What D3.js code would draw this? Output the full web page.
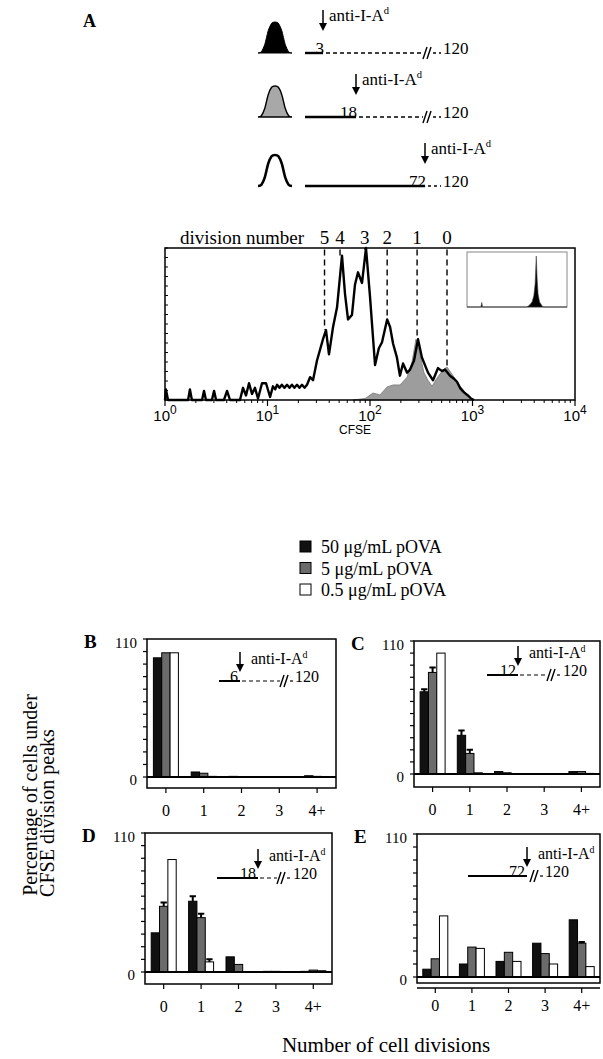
<!DOCTYPE html>
<html>
<head>
<meta charset="utf-8">
<script src="https://cdn.jsdelivr.net/npm/d3@7"></script>
<style>
  body { margin: 0; background: #fff; }
</style>
</head>
<body>
<script>
// ---------- data ----------
// Panel A schematic: hours when anti-I-Ad was added, culture ends at 120 h
const schemeTimes = [3, 18, 72];
const schemeEnd = 120;
const schemeBreak = [true, true, false];
const schemeFill = ['#000', '#a8a8a8', 'none'];
// normalised bell shape used for the three little histogram icons
const bellProfile = [[0, 0], [0.1, 0.04], [0.2, 0.28], [0.3, 0.72], [0.4, 0.96], [0.5, 1], [0.6, 0.96], [0.7, 0.72], [0.8, 0.28], [0.9, 0.04], [1, 0]];

// CFSE histogram [CFSE intensity, % of max]
const cfseOpen = [
  [1.00, 0], [1.02, 7], [1.07, 0], [1.68, 0], [1.75, 7], [1.83, 0], [2.30, 0], [2.40, 6], [2.51, 0],
  [2.87, 0], [3.01, 6], [3.15, 0], [3.76, 0], [4.03, 6], [4.31, 0], [5.39, 0], [5.77, 8], [6.17, 3],
  [6.60, 11], [7.06, 4], [7.55, 8], [8.08, 1], [8.84, 11], [9.67, 11], [10.6, 2], [11.3, 9], [11.9, 7],
  [12.4, 10], [13.1, 8], [13.8, 10], [14.6, 8], [15.5, 10], [16.4, 8], [17.3, 10], [18.3, 8], [19.4, 10],
  [20.5, 8], [21.7, 10], [23.0, 8], [24.3, 10], [26.0, 15], [27.8, 13], [30.4, 26], [34.8, 40], [37.2, 46],
  [39.8, 30], [43.6, 48], [47.7, 61], [53.3, 95], [57.0, 70], [61.0, 53], [66.7, 56], [71.4, 76], [76.4, 84],
  [83.6, 77], [91.4, 100], [100, 68], [112, 23], [122, 34], [131, 38], [147, 53], [157, 48], [168, 37],
  [183, 28], [196, 16], [210, 24], [230, 18], [246, 20], [269, 26], [294, 40], [321, 28], [368, 18],
  [412, 13], [461, 21], [504, 19], [539, 20], [603, 16], [660, 14], [706, 12], [755, 8], [826, 5],
  [903, 3], [967, 1], [1035, 0]
];
const cfseFilled = [
  [68, 0], [90, 1], [107, 4.6], [125, 3.3], [147, 8.6], [168, 9.9], [196, 9.9], [230, 15], [257, 25],
  [281, 40], [307, 30], [336, 18], [368, 13], [403, 9], [451, 14.5], [515, 19.7], [564, 21.7], [631, 17],
  [706, 12], [808, 6.6], [903, 3.3], [1011, 0]
];
const insetTrace = [
  [1, 0], [3.6, 0], [3.9, 9], [4.2, 0], [250, 0], [320, 4], [400, 10], [470, 22], [530, 45], [590, 100],
  [640, 55], [700, 25], [800, 10], [950, 4], [1100, 0], [10000, 0]
];
const divisionNumbers = [5, 4, 3, 2, 1, 0];
const divisionCfse = [36, 51, 89, 147, 288, 564];
const divisionPeak = [46, 95, 100, 53, 40, 21];
const cfseDecades = [0, 1, 2, 3, 4];

// Panels B-E: % of cells under each division peak, rows = doses
const categories = ['0', '1', '2', '3', '4+'];
const doses = ['50 μg/mL pOVA', '5 μg/mL pOVA', '0.5 μg/mL pOVA'];
const doseFill = ['#111', '#6b6b6b', '#fff'];

const pctB = [[95, 4, 0.5, 0, 1], [99, 3, 0.3, 0, 0.5], [99, 0.5, 0, 0, 0.3]];
const errB = [[0, 0, 0, 0, 0], [0, 0, 0, 0, 0], [0, 0, 0, 0, 0]];
const pctC = [[68, 32, 2, 0.3, 2], [84, 17, 1, 0.3, 2], [100, 1, 0, 0, 0.5]];
const errC = [[2, 4, 0, 0, 0], [4, 3, 0, 0, 0], [0, 0, 0, 0, 0]];
const pctD = [[31, 56, 12, 0.5, 0.5], [52, 43, 6, 0.5, 1.5], [89, 8, 0, 0.3, 1]];
const errD = [[0, 4, 0, 0, 0], [3, 3, 0, 0, 0], [0, 2, 0, 0, 0]];
const pctE = [[6, 10, 12, 26, 44], [14, 23, 19, 18, 26], [47, 22, 12, 10, 8]];
const errE = [[0, 0, 0, 0, 0], [0, 0, 0, 0, 1], [0, 0, 0, 0, 0]];
const addTimes = [6, 12, 18, 72];

// ---------- setup ----------
const serif = '"Liberation Serif", "Times New Roman", serif';
const sans = '"Liberation Sans", Arial, sans-serif';

const svg = d3.select('body').append('svg')
  .attr('width', 603)
  .attr('height', 1059)
  .style('font-family', serif);

const antiLabel = (g, x, y, size) => {
  const t = g.append('text').attr('x', x).attr('y', y).attr('font-size', size);
  t.append('tspan').text('anti-I-A');
  t.append('tspan').attr('font-size', size * 0.62).attr('dy', -size * 0.4).text('d');
};

const arrowDown = (g, x, yTop, yTip) => {
  g.append('line').attr('x1', x).attr('x2', x).attr('y1', yTop).attr('y2', yTip - 6)
    .attr('stroke', '#000').attr('stroke-width', 1.5);
  g.append('path').attr('d', `M${x - 4},${yTip - 8}L${x + 4},${yTip - 8}L${x},${yTip}Z`).attr('fill', '#000');
};

const breakMark = (g, x, y) => {
  [0, 4].forEach(o => {
    g.append('line').attr('x1', x + o).attr('y1', y + 6).attr('x2', x + o + 4).attr('y2', y - 6)
      .attr('stroke', '#000').attr('stroke-width', 1.4);
  });
};

// ---------- Panel A: schematic ----------
svg.append('text').attr('x', 83).attr('y', 27).attr('font-size', 18).attr('font-weight', 'bold').text('A');

const rowLineY = [53, 117, 186];
const timeX = d3.scaleLinear().domain([0, 3, 18, 72]).range([305, 323, 356, 425]);
const bell = d3.line().curve(d3.curveCardinal.tension(0.3));

schemeTimes.forEach((t, i) => {
  const y = rowLineY[i];
  const g = svg.append('g');
  const ix = d3.scaleLinear().range([258, 292]);
  const iy = d3.scaleLinear().range([y, y - 31]);
  const pts = bellProfile.map(d => [ix(d[0]), iy(d[1])]);
  g.append('path')
    .attr('d', bell(pts) + (schemeFill[i] === 'none' ? '' : 'Z'))
    .attr('fill', schemeFill[i])
    .attr('stroke', '#000')
    .attr('stroke-width', i === 2 ? 2.6 : (i === 1 ? 1.4 : 1));

  const xa = timeX(t);
  const xb = 423;
  g.append('line').attr('x1', timeX(0)).attr('x2', xa).attr('y1', y).attr('y2', y)
    .attr('stroke', '#000').attr('stroke-width', 2.4);
  if (schemeBreak[i]) {
    g.append('line').attr('x1', xa + 3).attr('x2', xb).attr('y1', y).attr('y2', y)
      .attr('stroke', '#000').attr('stroke-width', 1.3).attr('stroke-dasharray', '4,3');
    breakMark(g, xb, y);
    g.append('line').attr('x1', xb + 10).attr('x2', 441).attr('y1', y).attr('y2', y)
      .attr('stroke', '#000').attr('stroke-width', 1.3).attr('stroke-dasharray', '3,3');
  } else {
    g.append('line').attr('x1', xa + 3).attr('x2', 441).attr('y1', y).attr('y2', y)
      .attr('stroke', '#000').attr('stroke-width', 1.3).attr('stroke-dasharray', '3,3');
  }
  g.append('text').attr('x', xa + 1).attr('y', y + 1).attr('text-anchor', 'end')
    .attr('font-size', 17).text(t);
  g.append('text').attr('x', 443).attr('y', y + 1).attr('font-size', 17).text(schemeEnd);
  arrowDown(g, xa, y - 43, y - 22);
  antiLabel(g, xa + 6, y - 32, 17);
});

// ---------- Panel A: CFSE histogram ----------
const hx = d3.scaleLog().domain([1, 1e4]).range([165, 575]);
const hy = d3.scaleLinear().domain([0, 100]).range([400, 248]);
const hist = svg.append('g');

hist.append('path')
  .datum(cfseFilled)
  .attr('d', d3.area().x(d => hx(d[0])).y0(hy(0)).y1(d => hy(d[1])))
  .attr('fill', '#9d9d9d').attr('stroke', '#777').attr('stroke-width', 0.8);

hist.append('path')
  .datum(cfseOpen)
  .attr('d', d3.line().x(d => hx(d[0])).y(d => hy(d[1])))
  .attr('fill', 'none').attr('stroke', '#000').attr('stroke-width', 2.4).attr('stroke-linejoin', 'round');

// division guide lines
hist.selectAll('.div').data(divisionNumbers).join('line')
  .attr('x1', (d, i) => hx(divisionCfse[i])).attr('x2', (d, i) => hx(divisionCfse[i]))
  .attr('y1', hy(99)).attr('y2', (d, i) => hy(divisionPeak[i]))
  .attr('stroke', '#000').attr('stroke-width', 1.4).attr('stroke-dasharray', '6,4');
hist.selectAll('.divl').data(divisionNumbers).join('text')
  .attr('x', (d, i) => hx(divisionCfse[i])).attr('y', 244)
  .attr('text-anchor', 'middle').attr('font-size', 19).text(d => d);
hist.append('text').attr('x', 180).attr('y', 244).attr('font-size', 19).text('division number');

// frame
hist.append('rect').attr('x', hx(1)).attr('y', hy(100)).attr('width', hx(1e4) - hx(1)).attr('height', hy(0) - hy(100))
  .attr('fill', 'none').attr('stroke', '#000').attr('stroke-width', 1.5);

// y minor ticks
hist.selectAll('.yt').data(d3.range(0, 100.01, 6.25)).join('line')
  .attr('x1', hx(1)).attr('x2', hx(1) + 3).attr('y1', d => hy(d)).attr('y2', d => hy(d))
  .attr('stroke', '#000').attr('stroke-width', 1);

// x ticks (log)
const minor = [];
cfseDecades.slice(0, -1).forEach(k => d3.range(2, 10).forEach(m => minor.push(m * Math.pow(10, k))));
hist.selectAll('.xm').data(minor).join('line')
  .attr('x1', d => hx(d)).attr('x2', d => hx(d)).attr('y1', hy(0)).attr('y2', hy(0) + 3)
  .attr('stroke', '#000').attr('stroke-width', 1);
hist.selectAll('.xM').data(cfseDecades).join('line')
  .attr('x1', d => hx(Math.pow(10, d))).attr('x2', d => hx(Math.pow(10, d))).attr('y1', hy(0)).attr('y2', hy(0) + 6)
  .attr('stroke', '#000').attr('stroke-width', 1.2);
hist.selectAll('.xl').data(cfseDecades).join('text')
  .attr('x', d => hx(Math.pow(10, d))).attr('y', 421)
  .attr('text-anchor', 'middle').attr('font-family', sans).attr('font-size', 15)
  .each(function (d) {
    const t = d3.select(this);
    t.append('tspan').text('10');
    t.append('tspan').attr('font-size', 12).attr('dy', -7).text(d);
  });
hist.append('text').attr('x', 355).attr('y', 434).attr('text-anchor', 'middle')
  .attr('font-family', sans).attr('font-size', 12).text('CFSE');

// inset
const ix = d3.scaleLog().domain([1, 1e4]).range([467, 567]);
const iy = d3.scaleLinear().domain([0, 100]).range([307, 256]);
hist.append('rect').attr('x', 467).attr('y', 252).attr('width', 100).attr('height', 55)
  .attr('fill', '#fff').attr('stroke', '#888').attr('stroke-width', 1);
hist.append('path').datum(insetTrace)
  .attr('d', d3.area().x(d => ix(d[0])).y0(iy(0)).y1(d => iy(d[1])))
  .attr('fill', '#000').attr('stroke', '#444').attr('stroke-width', 0.6);

// ---------- legend ----------
const ly = d3.scalePoint().domain(doses).range([547, 590]);
const legend = svg.append('g');
legend.selectAll('rect').data(doses).join('rect')
  .attr('x', 300).attr('y', d => ly(d) - 6).attr('width', 11).attr('height', 11)
  .attr('fill', (d, i) => doseFill[i]).attr('stroke', '#000').attr('stroke-width', 1);
legend.selectAll('text').data(doses).join('text')
  .attr('x', 321).attr('y', d => ly(d) + 6).attr('font-size', 18).text(d => d);

// ---------- panels B-E ----------
const panels = [
  { id: 'B', data: pctB, err: errB, time: addTimes[0], left: 147, right: 336, y0: 777, y110: 639, top: 639, bottom: 788,
    inset: { lineY: 681, start: 219, arrow: 240, brk: 280, end: 295 } },
  { id: 'C', data: pctC, err: errC, time: addTimes[1], left: 414, right: 600, y0: 774, y110: 641, top: 641, bottom: 787,
    inset: { lineY: 675, start: 487, arrow: 518, brk: 547, end: 563 } },
  { id: 'D', data: pctD, err: errD, time: addTimes[2], left: 145, right: 332, y0: 972, y110: 833, top: 833, bottom: 984,
    inset: { lineY: 878, start: 217, arrow: 258, brk: 277, end: 293 } },
  { id: 'E', data: pctE, err: errE, time: addTimes[3], left: 417, right: 600, y0: 977, y110: 834, top: 834, bottom: 983,
    extra: 988, inset: { lineY: 876, start: 468, arrow: 527, brk: 530, end: 545 } }
];

const drawPanel = (p) => {
  const g = svg.append('g');
  const x = d3.scaleBand().domain(categories).range([p.left, p.right]);
  const y = d3.scaleLinear().domain([0, 110]).range([p.y0, p.y110]);
  const inner = d3.scaleBand().domain(doses).range([-12.5, 12.5]);
  const barX = (dose, i) => x(categories[i]) + x.bandwidth() / 2 + inner(dose);

  // bars
  doses.forEach((dose, di) => {
    g.selectAll(null).data(p.data[di]).join('rect')
      .attr('x', (d, i) => barX(dose, i))
      .attr('y', d => y(d))
      .attr('width', inner.bandwidth())
      .attr('height', d => y(0) - y(d))
      .attr('fill', doseFill[di]).attr('stroke', '#000').attr('stroke-width', 1);
    // error bars (upper half only)
    p.err[di].forEach((e, i) => {
      if (e <= 0) return;
      const bx = barX(dose, i);
      const v = p.data[di][i];
      g.append('path')
        .attr('d', `M${bx + inner.bandwidth() / 2},${y(v)}V${y(v + e)}M${bx + 1},${y(v + e)}H${bx + inner.bandwidth() - 1}`)
        .attr('stroke', '#000').attr('stroke-width', 2).attr('fill', 'none');
    });
  });

  // frame
  g.append('rect').attr('x', p.left).attr('y', p.top).attr('width', p.right - p.left).attr('height', p.bottom - p.top)
    .attr('fill', 'none').attr('stroke', '#000').attr('stroke-width', 1.5);
  g.append('line').attr('x1', p.left).attr('x2', p.right).attr('y1', y(0)).attr('y2', y(0))
    .attr('stroke', '#000').attr('stroke-width', 2);
  if (p.extra) {
    g.append('line').attr('x1', p.left).attr('x2', p.right).attr('y1', p.extra).attr('y2', p.extra)
      .attr('stroke', '#000').attr('stroke-width', 1.3);
  }

  // y ticks
  g.selectAll('.yt').data(d3.range(0, 111, 10)).join('line')
    .attr('x1', p.left - 4).attr('x2', p.left).attr('y1', d => y(d)).attr('y2', d => y(d))
    .attr('stroke', '#000').attr('stroke-width', 1.2);
  g.selectAll('.yl').data([0, 110]).join('text')
    .attr('x', p.left - 10).attr('y', d => d === 0 ? y(0) + 8 : y(110) + 9)
    .attr('text-anchor', 'end').attr('font-size', 15).text(d => d);
  g.append('text').attr('x', p.left - 63).attr('y', p.y110 + 9)
    .attr('font-size', 19).attr('font-weight', 'bold').text(p.id);

  // x ticks
  const xb = p.extra || p.bottom;
  g.selectAll('.xt').data(categories).join('line')
    .attr('x1', d => x(d) + x.bandwidth() / 2).attr('x2', d => x(d) + x.bandwidth() / 2)
    .attr('y1', xb).attr('y2', xb + 5).attr('stroke', '#000').attr('stroke-width', 1.2);
  g.selectAll('.xl').data(categories).join('text')
    .attr('x', d => x(d) + x.bandwidth() / 2).attr('y', p.bottom + 28)
    .attr('text-anchor', 'middle').attr('font-size', 16).text(d => d);

  // timeline inset
  const s = p.inset;
  g.append('line').attr('x1', s.start).attr('x2', s.arrow).attr('y1', s.lineY).attr('y2', s.lineY)
    .attr('stroke', '#000').attr('stroke-width', 2);
  if (s.brk - s.arrow > 4) {
    g.append('line').attr('x1', s.arrow + 2).attr('x2', s.brk).attr('y1', s.lineY).attr('y2', s.lineY)
      .attr('stroke', '#000').attr('stroke-width', 1.2).attr('stroke-dasharray', '4,3');
  }
  breakMark(g, s.brk, s.lineY);
  g.append('line').attr('x1', s.brk + 10).attr('x2', s.end - 1).attr('y1', s.lineY).attr('y2', s.lineY)
    .attr('stroke', '#000').attr('stroke-width', 1.2).attr('stroke-dasharray', '3,2');
  g.append('text').attr('x', s.arrow - 2).attr('y', s.lineY + 1).attr('text-anchor', 'end')
    .attr('font-size', 16).text(p.time);
  g.append('text').attr('x', s.end).attr('y', s.lineY + 1).attr('font-size', 16).text(schemeEnd);
  arrowDown(g, s.arrow, s.lineY - 29, s.lineY - 9);
  antiLabel(g, s.arrow + 11, s.lineY - 17, 16);
};

panels.forEach(drawPanel);

// ---------- shared axis titles ----------
svg.append('text')
  .attr('transform', 'translate(37,795) rotate(-90)')
  .attr('text-anchor', 'middle').attr('font-size', 20)
  .text('Percentage of cells under');
svg.append('text')
  .attr('transform', 'translate(54,813) rotate(-90)')
  .attr('text-anchor', 'middle').attr('font-size', 20)
  .text('CFSE division peaks');
svg.append('text')
  .attr('x', 386).attr('y', 1052).attr('text-anchor', 'middle').attr('font-size', 21)
  .text('Number of cell divisions');
</script>
</body>
</html>
